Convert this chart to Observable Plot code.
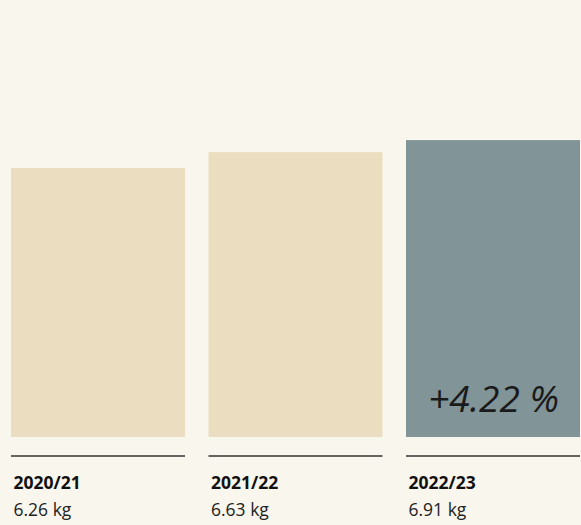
<!DOCTYPE html>
<html>
<head>
<meta charset="utf-8">
<script src="https://cdn.jsdelivr.net/npm/d3@7"></script>
<script src="https://cdn.jsdelivr.net/npm/@observablehq/plot@0.6"></script>
<style>
  html, body { margin: 0; padding: 0; background: #f9f6ee; }
  #chart { width: 581px; height: 525px; }
</style>
</head>
<body>
<div id="chart"></div>
<script>
const seasons = ["2020/21", "2021/22", "2022/23"];
const values = [6.26, 6.63, 6.91];
const valueLabels = ["6.26 kg", "6.63 kg", "6.91 kg"];
const changeLabel = "+4.22 %";
const highlightSeason = "2022/23";

const data = seasons.map((s, i) => ({season: s, value: values[i], label: valueLabels[i]}));
const highlight = data.filter(d => d.season === highlightSeason).map(d => ({...d, change: changeLabel}));

const font = "'Open Sans', 'Noto Sans', sans-serif";
const bw = 174;

const chart = Plot.plot({
  width: 581,
  height: 525,
  marginLeft: 11,
  marginRight: 1,
  marginTop: 0,
  marginBottom: 88,
  style: {background: "#f9f6ee", fontFamily: font},
  x: {domain: seasons, paddingInner: 0.119, paddingOuter: 0, round: false, axis: null},
  y: {domain: [0, 10.17], axis: null},
  marks: [
    Plot.barY(data, {x: "season", y: "value", fill: d => d.season === highlightSeason ? "#819497" : "#ebdec0"}),
    Plot.tickY(data, {x: "season", y: () => 0, dy: 18.5, stroke: "#333333", strokeWidth: 1.5}),
    Plot.text(data, {x: "season", y: () => 0, text: "season", dy: 46, dx: -bw / 2 + 2, textAnchor: "start", fontSize: 17.5, fontWeight: "bold", fill: "#111111"}),
    Plot.text(data, {x: "season", y: () => 0, text: "label", dy: 73, dx: -bw / 2 + 2, textAnchor: "start", fontSize: 17.5, fill: "#222222"}),
    Plot.text(highlight, {x: "season", y: () => 0, text: "change", dy: -37, fontSize: 37, fontStyle: "italic", fill: "#1a1a1a"})
  ]
});
document.getElementById("chart").appendChild(chart);
</script>
</body>
</html>
